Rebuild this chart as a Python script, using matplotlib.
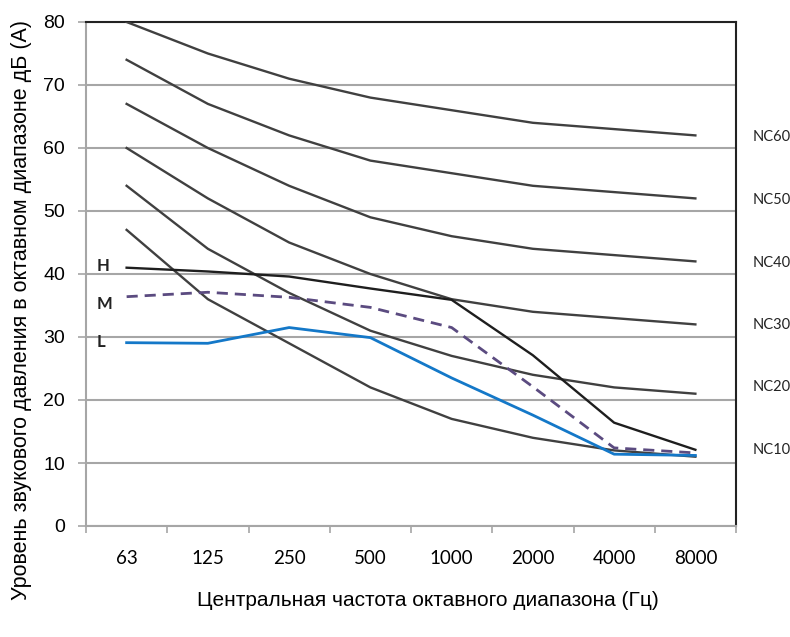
import numpy as np
import matplotlib
matplotlib.use("Agg")
import matplotlib.pyplot as plt
from matplotlib.ticker import MultipleLocator

freqs = ["63", "125", "250", "500", "1000", "2000", "4000", "8000"]

# NC curves
nc60 = [80, 75, 71, 68, 66, 64, 63, 62]
nc50 = [74, 67, 62, 58, 56, 54, 53, 52]
nc40 = [67, 60, 54, 49, 46, 44, 43, 42]
nc30 = [60, 52, 45, 40, 36, 34, 33, 32]
nc20 = [54, 44, 37, 31, 27, 24, 22, 21]
nc10 = [47, 36, 29, 22, 17, 14, 12, 11]
nc_names = ["NC60", "NC50", "NC40", "NC30", "NC20", "NC10"]
nc_label_y = [61.7, 51.7, 41.8, 31.9, 22.1, 12.1]

# unit levels
level_h = [41.0, 40.4, 39.6, 37.7, 35.9, 27.1, 16.4, 12.1]
level_m = [36.4, 37.1, 36.3, 34.7, 31.5, 22.1, 12.4, 11.6]
level_l = [29.1, 29.0, 31.5, 29.9, 23.5, 17.6, 11.4, 11.2]
level_names = ["H", "M", "L"]
level_label_y = [41.3, 35.2, 29.2]

sans = ["Liberation Sans", "DejaVu Sans"]

fig = plt.figure(figsize=(7.9, 6.37), dpi=100)
ax = fig.add_axes([86 / 790, 1 - 526 / 637, (736 - 86) / 790, (526 - 22) / 637])

x = np.arange(len(freqs))
grid_col = "#a6a6a6"
nc_col = "#404040"

for curve in [nc60, nc50, nc40, nc30, nc20, nc10]:
    ax.plot(x, curve, color=nc_col, lw=1.7, zorder=3)

ax.plot(x, level_h, color="#1e1e1e", lw=1.7, zorder=4)
ax.plot(x, level_m, color="#5b4b80", lw=2.0, ls=(0, (4, 2.5)), zorder=4)
ax.plot(x, level_l, color="#1478c8", lw=2.0, zorder=4)

# H / M / L labels
for name, yv in zip(level_names, level_label_y):
    ax.text(-0.375, yv, name, fontsize=12, fontweight="bold", color="#222222",
            family="Lato", ha="left", va="center")

# NC labels on the right
for name, yv in zip(nc_names, nc_label_y):
    ax.text(7.7, yv, name, fontsize=10.5, color="#222222", family="Lato",
            ha="left", va="center", clip_on=False)

ax.set_xlim(-0.5, 7.5)
ax.set_ylim(0, 80)
ax.yaxis.set_major_locator(MultipleLocator(10))
ax.yaxis.grid(True, color=grid_col, lw=1.5, zorder=1)
ax.set_axisbelow(True)

ax.set_xticks(x)
ax.set_xticklabels(freqs, family="Lato", fontsize=13.5)
ax.set_xticks(np.arange(-0.5, 8.0, 1.0), minor=True)
ax.tick_params(axis="x", which="major", length=0, pad=17)
ax.tick_params(axis="x", which="minor", length=5, width=1.2, color=grid_col)
ax.tick_params(axis="y", length=6, width=1.2, color=grid_col, labelsize=14, pad=9)
for lab in ax.get_yticklabels():
    lab.set_family(sans)

ax.spines["left"].set_color(grid_col)
ax.spines["left"].set_linewidth(1.5)
ax.spines["bottom"].set_color(grid_col)
ax.spines["bottom"].set_linewidth(1.5)
ax.spines["top"].set_color("#222222")
ax.spines["top"].set_linewidth(1.5)
ax.spines["right"].set_color("#222222")
ax.spines["right"].set_linewidth(1.5)

fig.text(22 / 790, 1 - 310 / 637,
         "Уровень звукового давления в октавном диапазоне дБ (A)",
         family=sans, fontsize=15.5, rotation=90, ha="center", va="center")
fig.text(428 / 790, 1 - 600 / 637,
         "Центральная частота октавного диапазона (Гц)",
         family=sans, fontsize=15, ha="center", va="center")

fig.savefig("out.png", dpi=100)
